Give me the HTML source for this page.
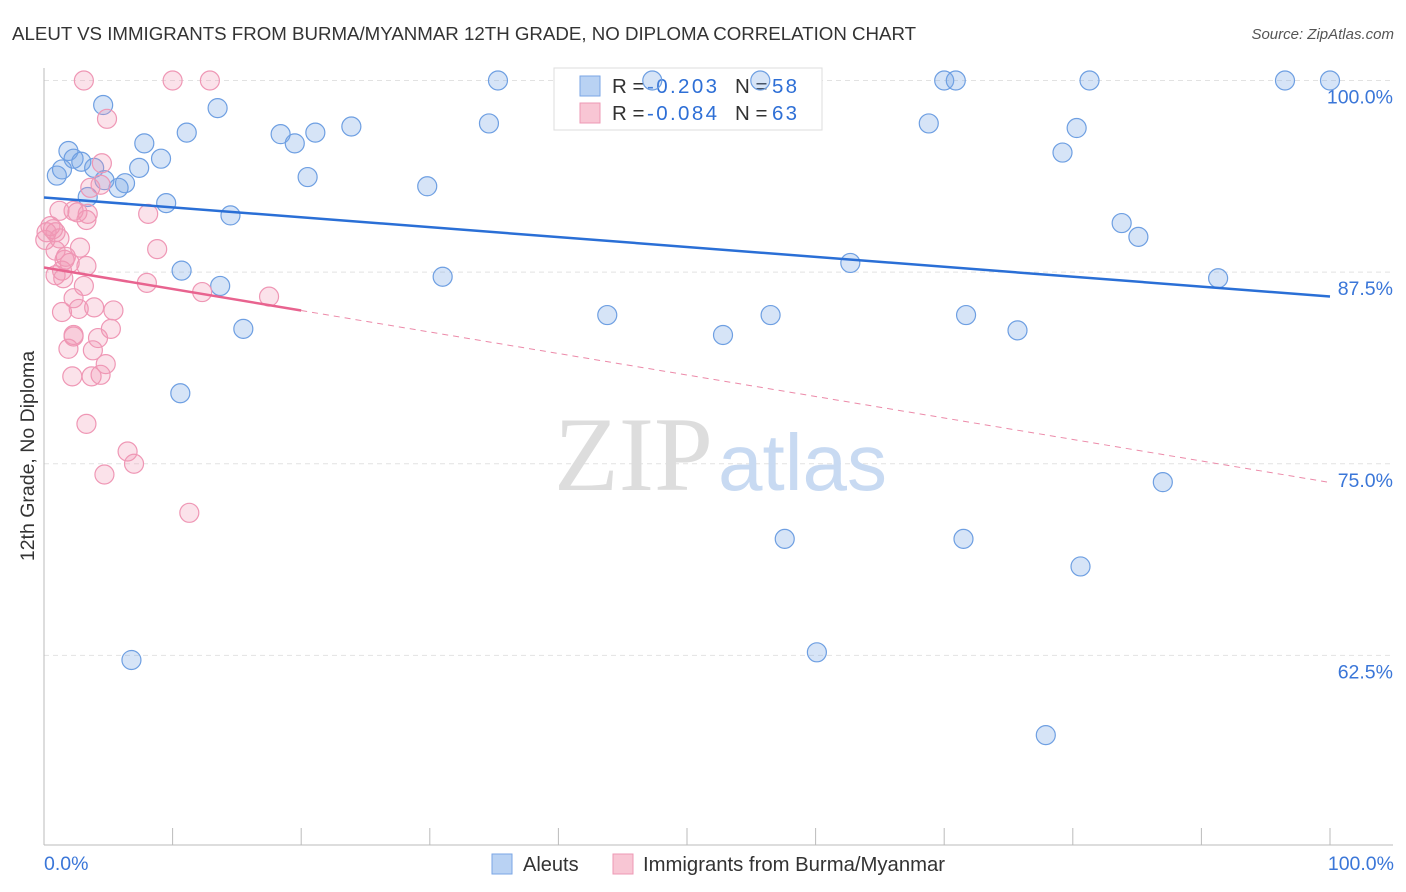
<!DOCTYPE html>
<html><head><meta charset="utf-8"><style>
body{margin:0;background:#fff;font-family:"Liberation Sans",sans-serif}
svg{display:block}
</style></head><body>
<svg id="chart" width="1406" height="892">
<text x="12" y="40" font-size="18.7" fill="#333">ALEUT VS IMMIGRANTS FROM BURMA/MYANMAR 12TH GRADE, NO DIPLOMA CORRELATION CHART</text>
<text x="1394" y="39" font-size="15" fill="#555" font-style="italic" text-anchor="end">Source: ZipAtlas.com</text>
<text x="34" y="456" font-size="19.5" fill="#333" text-anchor="middle" transform="rotate(-90 34 456)">12th Grade, No Diploma</text>
<g id="grid"></g>
<text x="554" y="490" font-size="106" fill="#ddd" font-family="Liberation Serif,serif">ZIP</text>
<text x="718" y="490" font-size="80" fill="#c8daf2">atlas</text>
<g>
<rect x="554" y="68" width="268" height="62" fill="#fff" stroke="#ddd"/>
<rect x="580" y="76" width="20" height="20" fill="#b9d2f3" stroke="#7aa6e6"/>
<rect x="580" y="103" width="20" height="20" fill="#f8c6d4" stroke="#ee98b4"/>
<text x="612" y="93" font-size="20.5" fill="#333">R =</text>
<text x="647" y="93" font-size="20.5" fill="#2e6fd6" textLength="70">-0.203</text>
<text x="735" y="93" font-size="20.5" fill="#333">N =</text>
<text x="772" y="93" font-size="20.5" fill="#2e6fd6" textLength="25">58</text>
<text x="612" y="120" font-size="20.5" fill="#333">R =</text>
<text x="647" y="120" font-size="20.5" fill="#2e6fd6" textLength="70">-0.084</text>
<text x="735" y="120" font-size="20.5" fill="#333">N =</text>
<text x="772" y="120" font-size="20.5" fill="#2e6fd6" textLength="25">63</text>
</g>
<g id="marks"></g>
<g id="lines"></g>
<g>
<rect x="492" y="854" width="20" height="20" fill="#b9d2f3" stroke="#7aa6e6"/>
<text x="523" y="871" font-size="20" fill="#333">Aleuts</text>
<rect x="613" y="854" width="20" height="20" fill="#f8c6d4" stroke="#ee98b4"/>
<text x="643" y="871" font-size="20.3" fill="#333">Immigrants from Burma/Myanmar</text>
</g>
<text x="44" y="870" font-size="19.5" fill="#3a76d8">0.0%</text>
<text x="1394" y="870" font-size="19.5" fill="#3a76d8" text-anchor="end">100.0%</text>
</svg>
<script>
const yTicks=[100,87.5,75,62.5];
const yTickLabels=["100.0%","87.5%","75.0%","62.5%"];
const aleutX=[4.6,13.5,11.1,7.8,1.9,2.3,2.9,3.9,9.1,7.4,1.0,1.4,4.7,6.3,5.8,3.4,9.5,14.5,18.4,19.5,21.1,23.9,20.5,29.8,34.6,35.3,47.3,55.7,70.0,70.9,81.3,96.5,100,68.8,80.3,79.2,83.8,85.1,62.7,91.3,10.7,13.7,31.0,43.8,52.8,56.5,71.7,75.7,15.5,10.6,87.0,57.6,71.5,80.6,6.8,60.1,77.9];
const aleutY=[98.4,98.2,96.6,95.9,95.4,94.9,94.7,94.3,94.9,94.3,93.8,94.2,93.5,93.3,93.0,92.4,92.0,91.2,96.5,95.9,96.6,97.0,93.7,93.1,97.2,100,100,100,100,100,100,100,100,97.2,96.9,95.3,90.7,89.8,88.1,87.1,87.6,86.6,87.2,84.7,83.4,84.7,84.7,83.7,83.8,79.6,73.8,70.1,70.1,68.3,62.2,62.7,57.3];
const burmaX=[3.1,10.0,12.9,4.9,4.5,3.6,4.4,1.2,2.3,3.4,2.6,3.3,8.1,0.5,0.7,0.9,0.1,1.2,2.8,8.8,1.7,2.0,3.3,1.4,0.9,1.5,8.0,3.1,12.3,17.5,2.3,3.9,5.4,1.4,2.7,5.2,2.3,2.3,4.2,1.9,3.8,4.8,2.2,3.7,4.4,3.3,6.5,7.0,4.7,11.3,0.9,1.6,0.2];
const burmaY=[100,100,100,97.5,94.6,93.0,93.2,91.5,91.5,91.3,91.4,90.9,91.3,90.5,90.3,90.1,89.6,89.7,89.1,89.0,88.5,88.1,87.9,87.6,87.3,87.1,86.8,86.6,86.2,85.9,85.8,85.2,85.0,84.9,85.1,83.8,83.4,83.3,83.2,82.5,82.4,81.5,80.7,80.7,80.8,77.6,75.8,75.0,74.3,71.8,88.9,88.3,90.1];
const aleutTrend=[92.37,85.91];
const burmaTrend=[87.8,73.78];
const NS="http://www.w3.org/2000/svg";
const X=v=>44+v*12.86, Y=v=>80.5+(100-v)*15.33;
function mk(t,a,p){const e=document.createElementNS(NS,t);for(const k in a)e.setAttribute(k,a[k]);p.appendChild(e);return e;}
const g=document.getElementById('grid');
yTicks.forEach((t,i)=>{
 const l=mk('line',{x1:44,x2:1393,y1:Y(t),y2:Y(t),stroke:'#e2e2e2','stroke-dasharray':'5,4'},g);
 
 
 const tx=mk('text',{x:1393,y:Y(t)+23,'font-size':19.5,fill:'#3a76d8','text-anchor':'end'},g);
 tx.textContent=yTickLabels[i];
 
 
});
const ax=mk('line',{x1:44,x2:1393,y1:845,y2:845,stroke:'#bbb'},g);


const ay=mk('line',{x1:44,x2:44,y1:68,y2:845,stroke:'#bbb'},g);


for(let i=0;i<=10;i++){
 const t=mk('line',{x1:X(i*10),x2:X(i*10),y1:828,y2:845,stroke:'#bbb'},g);
 
 
}
const m=document.getElementById('marks');
aleutX.forEach((x,i)=>{
 const c=mk('circle',{cx:X(x),cy:Y(aleutY[i]),r:9.5,fill:'rgba(120,165,230,0.3)',stroke:'#6e9fe2','stroke-width':1.2},m);
 
 
});
burmaX.forEach((x,i)=>{
 const c=mk('circle',{cx:X(x),cy:Y(burmaY[i]),r:9.5,fill:'rgba(242,150,180,0.28)',stroke:'#ef97b5','stroke-width':1.2},m);
 
 
});
const L=document.getElementById('lines');
const bl=mk('line',{x1:X(0),y1:Y(aleutTrend[0]),x2:X(100),y2:Y(aleutTrend[1]),stroke:'#2a6fd6','stroke-width':2.5},L);


const py=x=>burmaTrend[0]+(burmaTrend[1]-burmaTrend[0])*x/100;
const ps=mk('line',{x1:X(0),y1:Y(py(0)),x2:X(20),y2:Y(py(20)),stroke:'#e8638f','stroke-width':2.5},L);


const pd=mk('line',{x1:X(20),y1:Y(py(20)),x2:X(100),y2:Y(py(100)),stroke:'#ec8aa9','stroke-width':1,'stroke-dasharray':'6,5'},L);


</script>
</body></html>
